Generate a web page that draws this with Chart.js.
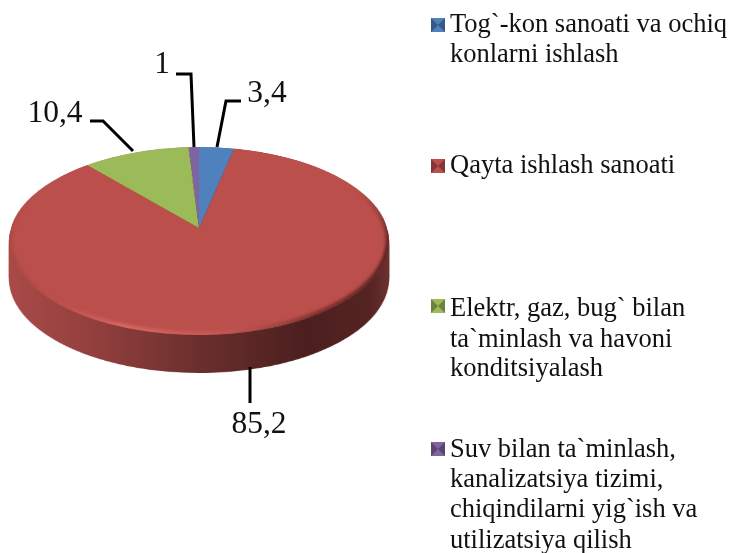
<!DOCTYPE html>
<html>
<head>
<meta charset="utf-8">
<style>
  html, body { margin: 0; background: #fff; }
  canvas { display: block; }
</style>
<script src="https://cdn.jsdelivr.net/npm/chart.js@4"></script>
</head>
<body>
<canvas id="pie" width="734" height="553"></canvas>
<script>
const categories = [
  'Tog`-kon sanoati va ochiq konlarni ishlash',
  'Qayta ishlash sanoati',
  'Elektr, gaz, bug` bilan ta`minlash va havoni konditsiyalash',
  'Suv bilan ta`minlash, kanalizatsiya tizimi, chiqindilarni yig`ish va utilizatsiya qilish'
];
const values = [3.4, 85.2, 10.4, 1];
const valueLabels = ['3,4', '85,2', '10,4', '1'];
const colors = ['#4f81bd', '#bb4f4c', '#9bbb59', '#8064a2'];

// legend text, broken the way the picture breaks it
const legendLines = [
  ['Tog`-kon sanoati va ochiq', 'konlarni ishlash'],
  ['Qayta ishlash sanoati'],
  ['Elektr, gaz, bug` bilan', 'ta`minlash va havoni', 'konditsiyalash'],
  ['Suv bilan ta`minlash,', 'kanalizatsiya tizimi,', 'chiqindilarni yig`ish va', 'utilizatsiya qilish']
];
const legendBaselines = [[32, 62], [173], [316, 347, 376], [457, 487, 517, 548]];
const legendMarkerY = [25, 166, 306, 449];

// label text position and its leader line, same order as values
const labelPos = [[267, 102], [259, 433], [55, 122], [162, 73]];
const leaders = [
  [[241, 101], [226, 101], [217, 147]],
  [[250, 367], [250, 403]],
  [[90, 121], [103, 121], [133, 151]],
  [[176, 74], [191, 74], [194, 147]]
];

// perspective of the disc, apex in the picture
const apexX = 199, apexY = 228;
const tilt = 0.138, depthY = 92.2, widthX = 188;
const wallHeight = 38;

function newCanvas(w, h) {
  const c = document.createElement('canvas');
  c.width = w;
  c.height = h;
  return c;
}

// row by row warp of the flat pie onto the tilted plane
function warp(flat, cx, cy, R) {
  const out = newCanvas(flat.width, flat.height);
  const o = out.getContext('2d');
  const rowV = y => { const d = y - apexY; return d / (depthY + d * tilt); };
  for (let y = 140; y < 345; y++) {
    const v = rowV(y), v2 = rowV(y + 1);
    if (v2 < -1.02 || v > 1.02) continue;
    const half = widthX / (1 - tilt * (v + v2) / 2);
    o.drawImage(flat, cx - R, cy + v * R, 2 * R, (v2 - v) * R,
      apexX - half, y, 2 * half, 1);
  }
  return out;
}

const tiltPlugin = {
  id: 'tilt',
  afterDatasetsDraw(chart) {
    const ctx = chart.ctx, w = chart.width, h = chart.height;
    const arc = chart.getDatasetMeta(0).data[0];

    const flat = newCanvas(w, h);
    flat.getContext('2d').drawImage(chart.canvas, 0, 0);
    const top = warp(flat, arc.x, arc.y, arc.outerRadius);

    // side wall: stacked copies of the top, then recoloured
    const wall = newCanvas(w, h);
    const wc = wall.getContext('2d');
    for (let d = wallHeight; d > 0; d--) wc.drawImage(top, 0, d);
    wc.globalCompositeOperation = 'source-in';
    const grad = wc.createLinearGradient(9, 0, 390, 0);
    grad.addColorStop(0, '#a94a47');
    grad.addColorStop(0.25, '#8f3e3c');
    grad.addColorStop(0.5, '#6a2f2d');
    grad.addColorStop(0.78, '#4b1f1e');
    grad.addColorStop(0.95, '#552422');
    grad.addColorStop(1, '#6e3230');
    wc.fillStyle = grad;
    wc.fillRect(0, 0, w, h);

    ctx.clearRect(0, 0, w, h);
    ctx.drawImage(wall, 0, 0);
    ctx.drawImage(top, 0, 0);

    // soft bevel round the rim of the face, fading out towards the back
    const rimY = apexY + 13, rimRx = 190, rimRy = 94;
    const bevel = newCanvas(w, h);
    const bc = bevel.getContext('2d');
    const bevelGrad = bc.createLinearGradient(9, 0, 390, 0);
    bevelGrad.addColorStop(0, 'rgba(150,60,57,0.4)');
    bevelGrad.addColorStop(0.3, 'rgba(226,112,107,0.75)');
    bevelGrad.addColorStop(0.55, 'rgba(214,100,96,0.45)');
    bevelGrad.addColorStop(0.8, 'rgba(90,32,30,0.6)');
    bevelGrad.addColorStop(1, 'rgba(70,25,24,0.8)');
    bc.beginPath();
    bc.ellipse(apexX, rimY, rimRx, rimRy, 0, 0, Math.PI * 2);
    bc.clip();
    bc.filter = 'blur(1.5px)';
    bc.strokeStyle = bevelGrad;
    bc.lineWidth = 7;
    bc.stroke();
    bc.filter = 'none';
    bc.globalCompositeOperation = 'destination-in';
    const fade = bc.createLinearGradient(0, rimY - 50, 0, rimY + 10);
    fade.addColorStop(0, 'rgba(0,0,0,0)');
    fade.addColorStop(1, 'rgba(0,0,0,1)');
    bc.fillStyle = fade;
    bc.fillRect(0, 0, w, h);
    ctx.drawImage(bevel, 0, 0);
  },
  afterDraw(chart) {
    const ctx = chart.ctx;
    ctx.save();
    ctx.fillStyle = '#111';
    ctx.strokeStyle = '#000';
    ctx.lineWidth = 3;
    ctx.lineJoin = 'miter';

    // value labels + leaders
    ctx.font = '31.5px "Liberation Serif"';
    ctx.textAlign = 'center';
    ctx.textBaseline = 'alphabetic';
    valueLabels.forEach((t, i) => {
      ctx.fillText(t, labelPos[i][0], labelPos[i][1]);
      ctx.beginPath();
      leaders[i].forEach((p, k) => k ? ctx.lineTo(p[0], p[1]) : ctx.moveTo(p[0], p[1]));
      ctx.stroke();
    });

    // legend
    ctx.font = '26.5px "Liberation Serif"';
    ctx.textAlign = 'left';
    legendLines.forEach((lines, i) => {
      const y = legendMarkerY[i], x = 431, s = 14;
      ctx.fillStyle = colors[i];
      ctx.fillRect(x, y - s / 2, s, s);
      ctx.fillStyle = 'rgba(0,0,0,0.3)';
      ctx.beginPath();
      ctx.moveTo(x, y - s / 2);
      ctx.lineTo(x + s / 2, y);
      ctx.lineTo(x, y + s / 2);
      ctx.moveTo(x + s, y - s / 2);
      ctx.lineTo(x + s / 2, y);
      ctx.lineTo(x + s, y + s / 2);
      ctx.fill();
      ctx.fillStyle = '#111';
      lines.forEach((l, k) => ctx.fillText(l, 450, legendBaselines[i][k]));
    });
    ctx.restore();
  }
};

new Chart(document.getElementById('pie'), {
  type: 'pie',
  data: {
    labels: categories,
    datasets: [{ data: values, backgroundColor: colors, borderWidth: 0 }]
  },
  options: {
    responsive: false,
    animation: false,
    devicePixelRatio: 1,
    layout: { padding: { left: 9, right: 345, top: 86, bottom: 87 } },
    plugins: { legend: { display: false }, tooltip: { enabled: false } }
  },
  plugins: [tiltPlugin]
});
</script>
</body>
</html>
